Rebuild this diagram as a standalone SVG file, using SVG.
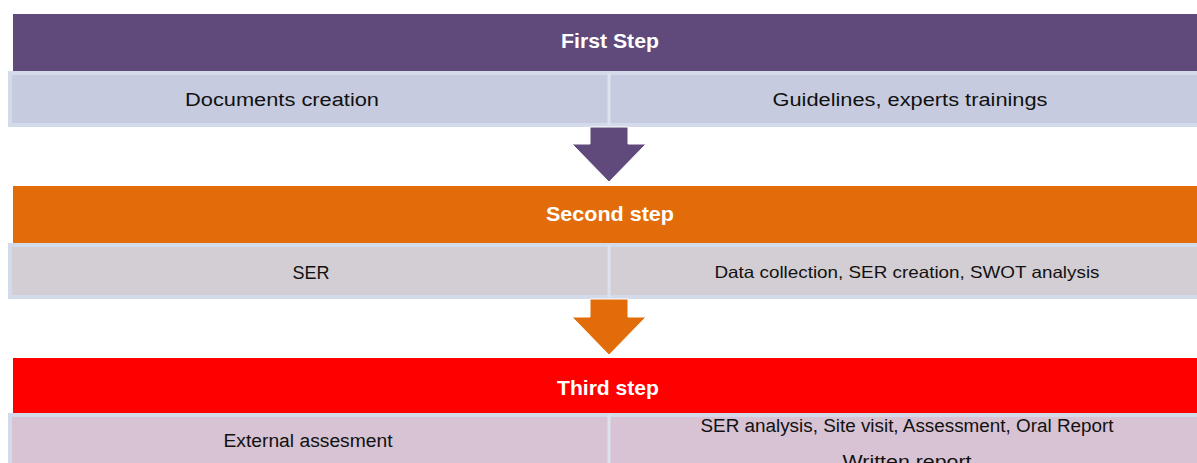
<svg xmlns="http://www.w3.org/2000/svg" width="1197" height="463" viewBox="0 0 1197 463">
  <style>
    .bar-title { font-family: "Liberation Sans", Arial, sans-serif; font-size: 21px; font-weight: bold; fill: #ffffff; text-anchor: middle; }
    .cell-text { font-family: "Liberation Sans", Arial, sans-serif; font-size: 18px; fill: #111111; text-anchor: middle; }
    .small-text { font-family: "Liberation Sans", Arial, sans-serif; font-size: 16.5px; fill: #111111; text-anchor: middle; }
    .row { stroke: #D3DAEA; stroke-width: 4; }
    .divider { stroke: #DCE2EE; stroke-width: 3; }
  </style>
  <rect width="1197" height="463" fill="#ffffff"/>

  <!-- Step 1 -->
  <g id="step1">
    <rect x="13" y="14" width="1190" height="57" fill="#604A7B"/>
    <text class="bar-title" x="610" y="48" textLength="98" lengthAdjust="spacingAndGlyphs">First Step</text>
    <rect class="row" x="10" y="73" width="1192" height="52" fill="#C6CBDF"/>
    <line class="divider" x1="609" y1="73" x2="609" y2="125"/>
    <text class="cell-text" x="282" y="106" textLength="194" lengthAdjust="spacingAndGlyphs">Documents creation</text>
    <text class="cell-text" x="910" y="106" textLength="275" lengthAdjust="spacingAndGlyphs">Guidelines, experts trainings</text>
  </g>

  <!-- Step 2 -->
  <g id="step2">
    <rect x="13" y="186" width="1190" height="57" fill="#E36C0A"/>
    <text class="bar-title" x="610" y="221" textLength="128" lengthAdjust="spacingAndGlyphs">Second step</text>
    <rect class="row" x="10" y="245" width="1192" height="52" fill="#D3CED3"/>
    <line class="divider" x1="609" y1="245" x2="609" y2="297"/>
    <text class="cell-text" x="311" y="279">SER</text>
    <text class="small-text" x="907" y="278" textLength="385" lengthAdjust="spacingAndGlyphs">Data collection, SER creation, SWOT analysis</text>
  </g>

  <!-- Step 3 -->
  <g id="step3">
    <rect x="13" y="358" width="1190" height="55" fill="#FF0000"/>
    <text class="bar-title" x="608" y="395" textLength="102" lengthAdjust="spacingAndGlyphs">Third step</text>
    <rect class="row" x="10" y="415" width="1192" height="60" fill="#D7C3D3"/>
    <line class="divider" x1="609" y1="415" x2="609" y2="475"/>
    <text class="cell-text" x="308" y="447" textLength="169" lengthAdjust="spacingAndGlyphs">External assesment</text>
    <text class="cell-text" x="907" y="432" textLength="413" lengthAdjust="spacingAndGlyphs">SER analysis, Site visit, Assessment, Oral Report</text>
    <text class="cell-text" x="907" y="468" textLength="129" lengthAdjust="spacingAndGlyphs">Written report</text>
  </g>

  <!-- Connectors: block arrows between steps -->
  <g id="connectors">
    <polygon points="590,127 628,127 628,144 646,144 609,182 572,144 590,144" fill="#604A7B" stroke="#ffffff" stroke-width="1"/>
    <polygon points="590,299 628,299 628,317 646,317 609,355 572,317 590,317" fill="#E36C0A" stroke="#ffffff" stroke-width="1"/>
  </g>
</svg>
